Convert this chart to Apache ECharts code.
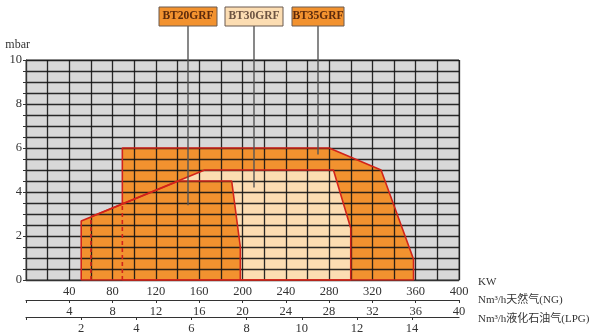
<!DOCTYPE html>
<html><head><meta charset="utf-8">
<script src="https://cdn.jsdelivr.net/npm/echarts@6/dist/echarts.min.js"></script>
<style>html,body{margin:0;padding:0;background:#fff}#c{width:600px;height:336px}</style>
</head><body><div id="c"></div>
<script>
// Working ranges (KW, mbar)
const bt35 = [[89,0],[89,6],[280,6],[328,5],[358,0.94],[358,0]];
const bt30 = [[60,0],[60,2.88],[165,5],[284,5],[300,2.35],[300,0]];
const bt20 = [[51,0],[51,2.68],[141,4.5],[190,4.5],[198,1.5],[198,0]];
const bt35Outline = [[89,3.47],[89,6],[280,6],[328,5],[358,0.94],[358,0],[89,0]];
const bt30Outline = [[60,2.88],[165,5],[284,5],[300,2.35],[300,0],[198,0]];
const bt20Outline = [[51,0],[51,2.68],[141,4.5],[190,4.5],[198,1.5],[198,0],[51,0]];
const dashed30 = [[60,0],[60,2.86]];
const dashed35 = [[89,0],[89,3.45]];
const models = ['BT20GRF','BT30GRF','BT35GRF'];
const pointerKW = [150, 211, 270];
const pointerMbar = [3.4, 4.2, 5.7];
const kwMax = 400, ngMax = 40, lpgMax = 15.7;
const unitLabels = ['KW','Nm³/h天然气(NG)','Nm³/h液化石油气(LPG)'];

const DARK = '#F2922F', LIGHT = '#FCDDB2', RED = '#D2241A';
const serif = 'Liberation Serif, DejaVu Serif, serif';
const chart = echarts.init(document.getElementById('c'));

function area(data, color, z) {
  return {type:'line', data, showSymbol:false, silent:true, z,
    lineStyle:{width:0, opacity:0}, areaStyle:{color, opacity:1, origin:0}};
}
function outline(data, z, dash) {
  return {type:'line', data, showSymbol:false, silent:true, z,
    lineStyle:{color:RED, width:1.6, type: dash ? [4,3] : 'solid'}};
}
const lblStyle = {color:'#333', fontFamily:serif, fontSize:12.5};

chart.setOption({
  animation:false,
  grid:{left:26, right:141, top:60, bottom:56, show:true, backgroundColor:'#D8D8D8', borderColor:'#555', borderWidth:1},
  xAxis:[
    {type:'value', min:0, max:kwMax, interval:20, z:10,
     axisLine:{show:true, lineStyle:{color:'#333'}}, axisTick:{show:false},
     splitLine:{show:true, lineStyle:{color:'rgba(20,20,20,0.9)', width:1.3}},
     axisLabel:{...lblStyle, margin:5, formatter:v => (v>0 && v%40===0) ? String(v) : ''}},
    {type:'value', min:0, max:ngMax, interval:4, position:'bottom', offset:20,
     axisLine:{show:true, onZero:false, lineStyle:{color:'#333', width:1.2}},
     axisTick:{show:true, inside:false, length:3, lineStyle:{color:'#333'}},
     splitLine:{show:false},
     axisLabel:{...lblStyle, margin:5, formatter:v => v>0 ? String(v) : ''}},
    {type:'value', min:0, max:lpgMax, interval:2, position:'bottom', offset:37,
     axisLine:{show:true, onZero:false, lineStyle:{color:'#333', width:1.2}},
     axisTick:{show:true, length:3, lineStyle:{color:'#333'}},
     splitLine:{show:false},
     axisLabel:{...lblStyle, margin:5, showMaxLabel:false, formatter:v => (v>0 && v<15) ? String(v) : ''}}
  ],
  yAxis:{type:'value', min:0, max:10, interval:0.5, z:10,
    axisLine:{show:true, lineStyle:{color:'#333'}},
    axisTick:{show:true, length:3, interval:(i)=> i%4===0, lineStyle:{color:'#333'}},
    splitLine:{show:true, lineStyle:{color:'rgba(20,20,20,0.9)', width:1.3}},
    axisLabel:{...lblStyle, margin:4, interval:0, formatter:v => (v%2===0) ? String(v) : ''},
    name:'mbar', nameLocation:'end', nameGap:9,
    nameTextStyle:{color:'#333', fontFamily:serif, fontSize:12, align:'right', padding:[0,-4,0,0]}},
  series:[
    area(bt35, DARK, 2),
    area(bt30, LIGHT, 3),
    area(bt20, DARK, 4),
    outline(bt35Outline, 20),
    outline(bt30Outline, 20),
    outline(bt20Outline, 20),
    outline(dashed30, 21, true),
    outline(dashed35, 21, true)
  ]
});

// legend boxes with pointer lines
const boxW = [58, 58, 52];
const boxFill = [DARK, LIGHT, DARK];
const boxText = ['#5c2a0c', '#6d5442', '#5c2a0c'];
const g = [];
models.forEach((m, i) => {
  const p = chart.convertToPixel({gridIndex:0}, [pointerKW[i], pointerMbar[i]]);
  const x = Math.round(p[0]);
  g.push({type:'line', z:30, shape:{x1:x, y1:26, x2:x, y2:p[1]}, style:{stroke:'#555', lineWidth:1.4}});
  g.push({type:'rect', z:31, shape:{x:x - boxW[i]/2, y:7, width:boxW[i], height:19},
    style:{fill:boxFill[i], stroke:'#6a5a50', lineWidth:1}});
  g.push({type:'text', z:32, x:x, y:16.5, style:{text:m, fill:boxText[i], font:'bold 11.5px "Liberation Serif", serif', align:'center', verticalAlign:'middle'}});
});
const unitY = [282, 300, 319];
unitLabels.forEach((t, i) => {
  g.push({type:'text', x:478, y:unitY[i], style:{text:t, fill:'#333', font:'11px "Liberation Serif", "Noto Sans CJK SC", serif', verticalAlign:'middle'}});
});
chart.setOption({graphic:g});
</script></body></html>
